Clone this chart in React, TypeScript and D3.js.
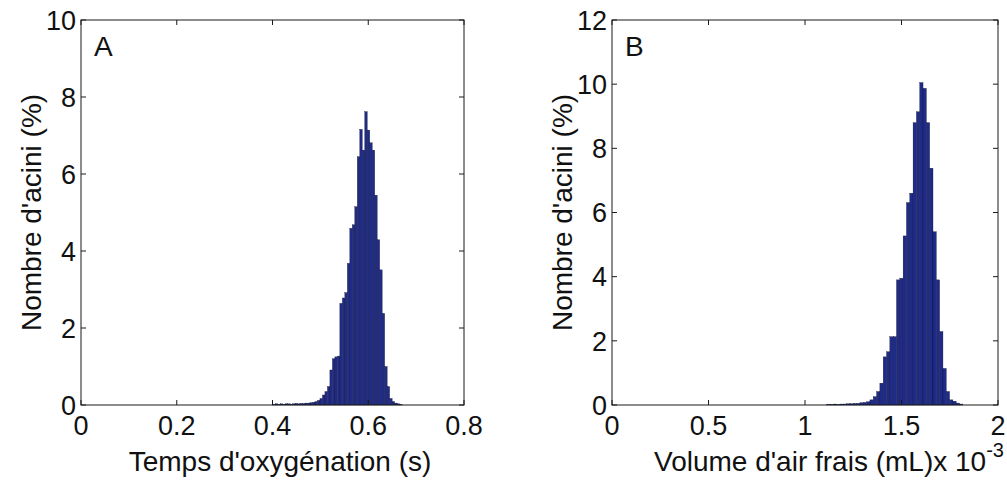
import React from "react";
import * as d3 from "d3";

// Panel A: Temps d'oxygénation (s) histogram
const binStartA = 0.4029; // centre of first bin
const binWidthA = 0.0052;
const countsA = [
  0.02, 0.03, 0.02, 0.03, 0.02, 0.03, 0.03, 0.02, 0.03, 0.04, 0.03, 0.04, 0.04, 0.05, 0.05, 0.06,
  0.07, 0.09, 0.12, 0.17, 0.26, 0.35, 0.48, 0.91, 1.2, 1.25, 1.27, 2.64, 2.78, 2.92, 3.68, 4.59,
  4.68, 5.15, 6.45, 7.16, 6.62, 7.62, 7.14, 6.81, 6.62, 5.45, 4.29, 3.51, 2.38, 1.0, 0.48, 0.17,
  0.09, 0.05, 0.03, 0.02,
];
const xTicksA = [0, 0.2, 0.4, 0.6, 0.8];
const xTickLabelsA = ["0", "0.2", "0.4", "0.6", "0.8"];
const yTicksA = [0, 2, 4, 6, 8, 10];

// Panel B: Volume d'air frais (mL) x 10^-3 histogram
const binStartB = 1.1214;
const binWidthB = 0.0172;
const countsB = [
  0.02, 0.02, 0.03, 0.02, 0.03, 0.03, 0.04, 0.04, 0.05,
  0.05, 0.07, 0.08, 0.1, 0.16, 0.26, 0.42, 0.68, 1.5, 1.66, 2.13, 2.13, 3.9, 3.95, 5.27, 6.31,
  6.6, 8.8, 9.14, 10.05, 9.87, 8.8, 7.38, 5.4, 3.9, 2.29, 1.14, 0.42, 0.16, 0.12, 0.06, 0.03,
];
const xTicksB = [0, 0.5, 1, 1.5, 2];
const xTickLabelsB = ["0", "0.5", "1", "1.5", "2"];
const yTicksB = [0, 2, 4, 6, 8, 10, 12];

const FONT = "Arial, 'Liberation Sans', Helvetica, sans-serif";
const BAR = "#1f2b88";
const AXIS = "#1a1a1a";
const FS_TICK = 27;
const FS_LABEL = 28;

type PanelProps = {
  left: number;
  right: number;
  top: number;
  bottom: number;
  xDomain: [number, number];
  yDomain: [number, number];
  xTicks: number[];
  xTickLabels: string[];
  yTicks: number[];
  binStart: number;
  binWidth: number;
  counts: number[];
  letter: string;
  yLabelX: number;
  xLabel: React.ReactNode;
};

function Panel(p: PanelProps) {
  const x = d3.scaleLinear().domain(p.xDomain).range([p.left, p.right]);
  const y = d3.scaleLinear().domain(p.yDomain).range([p.bottom, p.top]);
  const tl = 5;
  return (
    <g>
      {p.counts.map((c, i) => {
        const cx = p.binStart + i * p.binWidth;
        const x0 = x(cx - p.binWidth / 2);
        const x1 = x(cx + p.binWidth / 2);
        return (
          <rect
            key={i}
            x={x0}
            y={y(c)}
            width={x1 - x0}
            height={y(0) - y(c)}
            fill={BAR}
            stroke="#0a0a20"
            strokeWidth={0.3}
          />
        );
      })}
      <rect
        x={p.left}
        y={p.top}
        width={p.right - p.left}
        height={p.bottom - p.top}
        fill="none"
        stroke={AXIS}
        strokeWidth={1}
      />
      {p.xTicks.map((t, i) => (
        <g key={"xt" + i}>
          <line x1={x(t)} x2={x(t)} y1={p.bottom} y2={p.bottom - tl} stroke={AXIS} />
          <line x1={x(t)} x2={x(t)} y1={p.top} y2={p.top + tl} stroke={AXIS} />
          <text
            x={x(t)}
            y={p.bottom + 30}
            textAnchor="middle"
            fontFamily={FONT}
            fontSize={FS_TICK}
            fill="#111"
          >
            {p.xTickLabels[i]}
          </text>
        </g>
      ))}
      {p.yTicks.map((t, i) => (
        <g key={"yt" + i}>
          <line x1={p.left} x2={p.left + tl} y1={y(t)} y2={y(t)} stroke={AXIS} />
          <line x1={p.right} x2={p.right - tl} y1={y(t)} y2={y(t)} stroke={AXIS} />
          <text
            x={p.left - 5}
            y={y(t)}
            dy="0.36em"
            textAnchor="end"
            fontFamily={FONT}
            fontSize={FS_TICK}
            fill="#111"
          >
            {t}
          </text>
        </g>
      ))}
      <text x={p.left + 13} y={p.top + 36} fontFamily={FONT} fontSize={FS_LABEL} fill="#111">
        {p.letter}
      </text>
      <text
        transform={`translate(${p.yLabelX},${(p.top + p.bottom) / 2}) rotate(-90)`}
        textAnchor="middle"
        fontFamily={FONT}
        fontSize={FS_LABEL}
        fill="#111"
      >
        Nombre d'acini (%)
      </text>
      {p.xLabel}
    </g>
  );
}

export default function App() {
  return (
    <svg width={1007} height={482} style={{ display: "block", position: "absolute", left: 0, top: 0 }}>
      <rect x={0} y={0} width={1007} height={482} fill="#fff" />
      <Panel
        left={81}
        right={464}
        top={20}
        bottom={405}
        xDomain={[0, 0.8]}
        yDomain={[0, 10]}
        xTicks={xTicksA}
        xTickLabels={xTickLabelsA}
        yTicks={yTicksA}
        binStart={binStartA}
        binWidth={binWidthA}
        counts={countsA}
        letter="A"
        yLabelX={41}
        xLabel={
          <text x={280} y={471} textAnchor="middle" fontFamily={FONT} fontSize={FS_LABEL} fill="#111">
            Temps d'oxygénation (s)
          </text>
        }
      />
      <Panel
        left={612}
        right={998}
        top={20}
        bottom={405}
        xDomain={[0, 2]}
        yDomain={[0, 12]}
        xTicks={xTicksB}
        xTickLabels={xTickLabelsB}
        yTicks={yTicksB}
        binStart={binStartB}
        binWidth={binWidthB}
        counts={countsB}
        letter="B"
        yLabelX={572}
        xLabel={
          <text x={654} y={471} textAnchor="start" fontFamily={FONT} fontSize={FS_LABEL} fill="#111">
            Volume d'air frais (mL)x 10
            <tspan dy={-14} fontSize={20}>-3</tspan>
          </text>
        }
      />
    </svg>
  );
}
